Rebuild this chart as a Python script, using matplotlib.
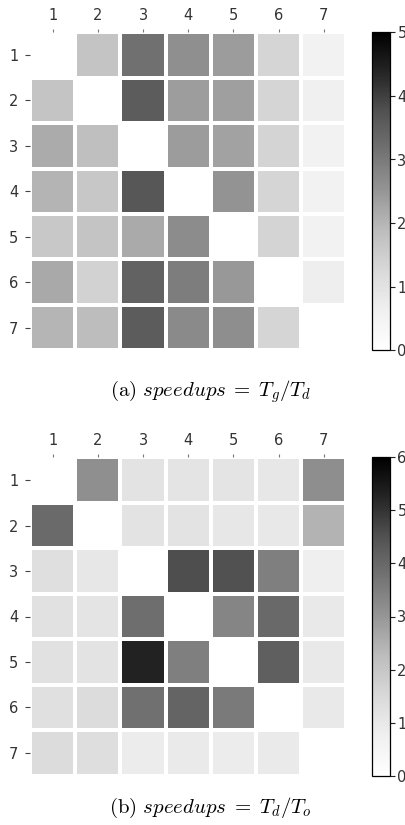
import numpy as np
import matplotlib
matplotlib.use("Agg")
import matplotlib.pyplot as plt

plt.rcParams['mathtext.fontset'] = 'cm'

labels = ["1", "2", "3", "4", "5", "6", "7"]

# speedups = Tg/Td (diagonal empty)
speedup_gd = np.array([
    [np.nan, 1.72, 3.18, 2.63, 2.41, 1.34, 0.54],
    [1.72, np.nan, 3.56, 2.39, 2.36, 1.34, 0.62],
    [2.15, 1.83, np.nan, 2.41, 2.31, 1.38, 0.54],
    [2.03, 1.65, 3.64, np.nan, 2.55, 1.34, 0.54],
    [1.63, 1.72, 2.17, 2.68, np.nan, 1.38, 0.54],
    [2.19, 1.41, 3.44, 2.93, 2.48, np.nan, 0.67],
    [2.00, 1.88, 3.56, 2.71, 2.64, 1.34, np.nan],
])

# speedups = Td/To (diagonal empty)
speedup_do = np.array([
    [np.nan, 3.15, 1.18, 1.14, 1.14, 1.07, 3.17],
    [3.95, np.nan, 1.18, 1.18, 1.07, 1.01, 2.44],
    [1.30, 1.07, np.nan, 4.57, 4.50, 3.49, 0.79],
    [1.24, 1.14, 3.86, np.nan, 3.36, 3.98, 0.98],
    [1.24, 1.18, 5.31, 3.47, np.nan, 4.20, 0.98],
    [1.27, 1.40, 3.82, 4.09, 3.60, np.nan, 0.98],
    [1.40, 1.34, 0.87, 0.94, 0.91, 0.94, np.nan],
])

captions = [r"$\mathrm{(a)}\ speedups\;=\;T_g/T_d$",
            r"$\mathrm{(b)}\ speedups\;=\;T_d/T_o$"]
vmaxes = [5, 6]

W, H = 406, 825
fig = plt.figure(figsize=(W / 100, H / 100), dpi=100)

def fx(px):
    return px / W

def fy(py):
    return 1 - py / H

panels = [
    (speedup_gd, 32.3, 350.3, 390),
    (speedup_do, 457.3, 775.7, 806),
]

tick_color = "#333333"
for i, (data, top, bot, cap_y) in enumerate(panels):
    ax = fig.add_axes([fx(30), fy(bot), fx(346.5) - fx(30), fy(top) - fy(bot)])
    cax = fig.add_axes([fx(372), fy(bot), fx(389.7) - fx(372), fy(top) - fy(bot)])
    m = np.ma.masked_invalid(data)
    mesh = ax.pcolormesh(m, cmap="Greys", vmin=0, vmax=vmaxes[i],
                         edgecolors="white", linewidth=2.6)
    ax.set_xlim(0, 7)
    ax.set_ylim(7, 0)
    for s in ax.spines.values():
        s.set_visible(False)
    ax.xaxis.tick_top()
    ax.set_xticks(np.arange(7) + 0.5)
    ax.set_yticks(np.arange(7) + 0.5)
    ax.set_xticklabels(labels, fontsize=10.5, color=tick_color)
    ax.set_yticklabels(labels, fontsize=10.5, color=tick_color)
    ax.tick_params(axis="x", length=2, width=0.8, color="#777777", pad=5)
    ax.tick_params(axis="y", length=3.5, width=0.8, color="#444444", pad=5)

    cb = fig.colorbar(mesh, cax=cax)
    cb.set_ticks(np.arange(0, vmaxes[i] + 1))
    cb.outline.set_edgecolor("black")
    cb.outline.set_linewidth(0.9)
    cax.tick_params(length=3.5, width=0.8, color="#222222", pad=2,
                    labelsize=10.5, labelcolor=tick_color)

    fig.text(fx(210.5), fy(cap_y + 1.5), captions[i], ha="center", va="center",
             fontsize=15, color="black")

fig.savefig("out.png", dpi=100)
